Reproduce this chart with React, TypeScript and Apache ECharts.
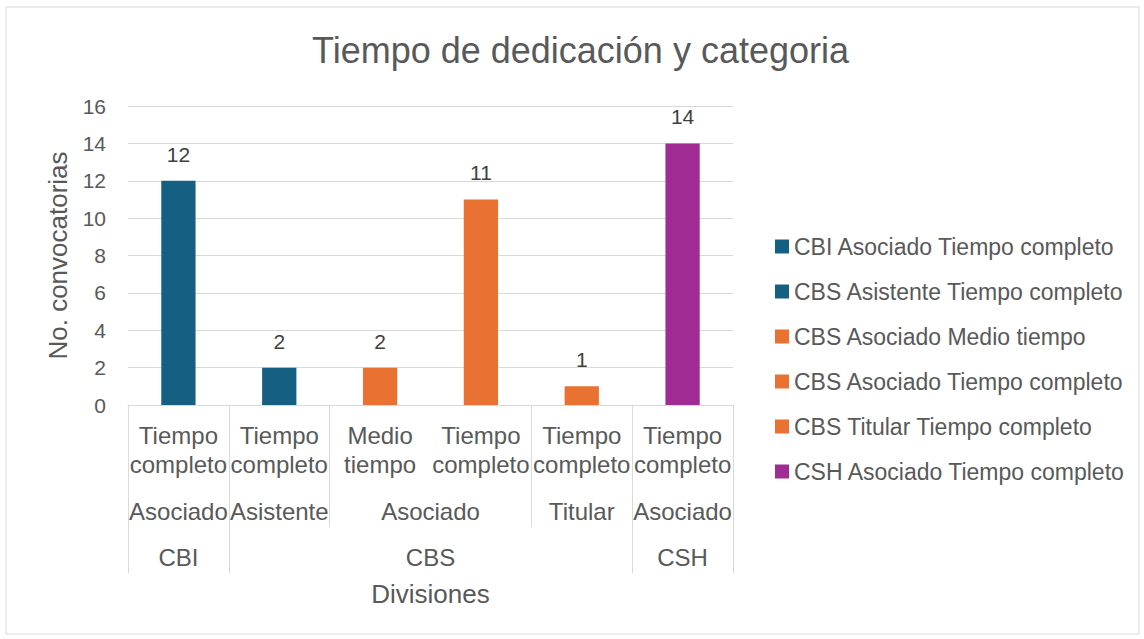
import React, { useEffect, useRef } from "react";
import * as echarts from "echarts";

const level1 = ["Tiempo\ncompleto", "Tiempo\ncompleto", "Medio\ntiempo", "Tiempo\ncompleto", "Tiempo\ncompleto", "Tiempo\ncompleto"];
// second level: label + span in categories
const level2Labels = ["Asociado", "Asistente", "Asociado", "Titular", "Asociado"];
const level2Spans = [1, 1, 2, 1, 1];
const level3Labels = ["CBI", "CBS", "CSH"];
const level3Spans = [1, 4, 1];

const seriesNames = [
  "CBI Asociado Tiempo completo",
  "CBS Asistente Tiempo completo",
  "CBS Asociado Medio tiempo",
  "CBS Asociado Tiempo completo",
  "CBS Titular Tiempo completo",
  "CSH Asociado Tiempo completo",
];
const seriesValues = [12, 2, 2, 11, 1, 14];
const seriesColors = ["#156082", "#156082", "#E97132", "#E97132", "#E97132", "#A02B93"];

const FONT = "Liberation Sans";
const TXT = "#595959";
const LINE = "#d9d9d9";

function groupInfo(spans: number[]) {
  const bounds: number[] = [0];
  const centers: number[] = [];
  let acc = 0;
  spans.forEach((s) => {
    centers.push(acc + s / 2);
    acc += s;
    bounds.push(acc);
  });
  return { bounds, centers };
}

export default function App() {
  const ref = useRef<HTMLDivElement>(null);
  useEffect(() => {
    document.body.style.margin = "0";
    if (!ref.current) return;
    const chart = echarts.init(ref.current, undefined, { renderer: "svg" });
    const g2 = groupInfo(level2Spans);
    const g3 = groupInfo(level3Spans);
    const n = level1.length;
    const lab2 = new Map<number, string>();
    g2.centers.forEach((c, i) => lab2.set(c, level2Labels[i]));
    const lab3 = new Map<number, string>();
    g3.centers.forEach((c, i) => lab3.set(c, level3Labels[i]));

    chart.setOption({
      animation: false,
      textStyle: { fontFamily: FONT },
      title: {
        text: "Tiempo de dedicación y categoria",
        left: 307,
        top: 27,
        textStyle: { fontFamily: FONT, fontSize: 36, fontWeight: "normal", color: TXT },
      },
      graphic: [
        {
          type: "rect",
          shape: { x: 6, y: 7, width: 1133, height: 627 },
          style: { fill: "none", stroke: LINE, lineWidth: 1 },
          silent: true,
        },
      ],
      legend: {
        orient: "vertical",
        left: 770,
        top: 230,
        itemGap: 22,
        itemWidth: 14,
        itemHeight: 14,
        icon: "rect",
        textStyle: { fontFamily: FONT, fontSize: 23, color: TXT },
        data: seriesNames,
      },
      grid: { left: 128, right: 411, top: 106, bottom: 234 },
      xAxis: [
        {
          type: "category",
          data: level1,
          position: "bottom",
          axisLine: { show: true, lineStyle: { color: LINE } },
          axisTick: { show: false },
          axisLabel: {
            interval: 0,
            color: TXT,
            fontFamily: FONT,
            fontSize: 24,
            lineHeight: 29,
            margin: 16,
          },
        },
        {
          type: "value",
          min: 0,
          max: n,
          position: "bottom",
          axisLine: { show: false },
          splitLine: { show: false },
          axisTick: {
            show: true,
            customValues: g2.bounds.filter((b) => !g3.bounds.includes(b)),
            length: 122,
            lineStyle: { color: LINE },
          },
          axisLabel: {
            customValues: g2.centers,
            formatter: (v: number) => lab2.get(v) ?? "",
            color: TXT,
            fontFamily: FONT,
            fontSize: 24,
            lineHeight: 24,
            margin: 94,
          },
        },
        {
          type: "value",
          min: 0,
          max: n,
          position: "bottom",
          axisLine: { show: false },
          splitLine: { show: false },
          axisTick: {
            show: true,
            customValues: g3.bounds,
            length: 168,
            lineStyle: { color: LINE },
          },
          axisLabel: {
            customValues: g3.centers,
            formatter: (v: number) => lab3.get(v) ?? "",
            color: TXT,
            fontFamily: FONT,
            fontSize: 24,
            lineHeight: 24,
            margin: 140,
          },
          name: "Divisiones",
          nameLocation: "middle",
          nameGap: 176,
          nameTextStyle: { color: TXT, fontFamily: FONT, fontSize: 26 },
        },
      ],
      yAxis: {
        type: "value",
        min: 0,
        max: 16,
        interval: 2,
        axisLine: { show: false },
        axisTick: { show: false },
        splitLine: { lineStyle: { color: LINE } },
        axisLabel: { color: TXT, fontFamily: FONT, fontSize: 21, margin: 22 },
        name: "No. convocatorias",
        nameLocation: "middle",
        nameGap: 57,
        nameTextStyle: { color: TXT, fontFamily: FONT, fontSize: 26 },
      },
      series: seriesNames.map((name, i) => ({
        name,
        type: "bar",
        stack: "all",
        xAxisIndex: 0,
        barWidth: "34%",
        itemStyle: { color: seriesColors[i] },
        data: level1.map((_, j) => (j === i ? seriesValues[i] : null)),
        label: {
          show: true,
          position: "top",
          distance: 16,
          color: "#404040",
          fontFamily: FONT,
          fontSize: 21,
        },
      })),
    });
    return () => chart.dispose();
  }, []);
  return <div ref={ref} style={{ width: 1144, height: 639 }} />;
}
